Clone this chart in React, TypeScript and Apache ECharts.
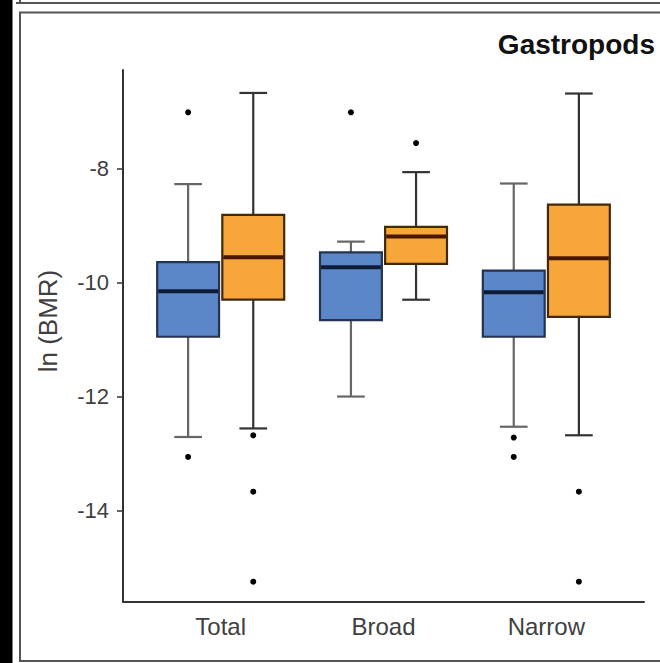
import React, { useEffect, useRef } from "react";
import * as echarts from "echarts";

const categories = ["Total", "Broad", "Narrow"];
// each box: [lower whisker, Q1, median, Q3, upper whisker]
const blueBoxes = [
  [-12.71, -10.95, -10.15, -9.64, -8.27],
  [-12.0, -10.66, -9.73, -9.47, -9.28],
  [-12.53, -10.95, -10.17, -9.79, -8.26],
];
const orangeBoxes = [
  [-12.56, -10.3, -9.555, -8.81, -6.67],
  [-10.3, -9.67, -9.19, -9.02, -8.06],
  [-12.68, -10.6, -9.57, -8.63, -6.68],
];
// outliers: [category index, value]
const blueOutliers = [
  [0, -7.01],
  [0, -13.06],
  [1, -7.01],
  [2, -12.72],
  [2, -13.06],
];
const orangeOutliers = [
  [0, -12.68],
  [0, -13.67],
  [0, -15.25],
  [1, -7.55],
  [2, -13.67],
  [2, -15.25],
];
const yTicks = [-14, -12, -10, -8];
const yRange = [-15.607, -6.267];

const BOX_W = 0.38;
const CAP_W = 0.17;
const OFFSET = 0.2;
const FONT = "'Liberation Sans', Arial, sans-serif";

function boxSeries(boxes: number[][], offset: number, fill: string, border: string, whisker: string, median: string) {
  return {
    type: "custom",
    data: boxes.map((b, i) => [i + 1, ...b]),
    encode: { x: 0, y: [1, 2, 3, 4, 5] },
    z: 3,
    renderItem: (params: any, api: any) => {
      const xc = api.value(0) + offset;
      const pLo = api.coord([xc, api.value(1)]);
      const pQ1 = api.coord([xc, api.value(2)]);
      const pMed = api.coord([xc, api.value(3)]);
      const pQ3 = api.coord([xc, api.value(4)]);
      const pHi = api.coord([xc, api.value(5)]);
      const bw = api.size([BOX_W, 0])[0];
      const cw = api.size([CAP_W, 0])[0];
      const cx = pQ1[0];
      const ws = { stroke: whisker, lineWidth: 2.2 };
      return {
        type: "group",
        children: [
          { type: "line", shape: { x1: cx, y1: pLo[1], x2: cx, y2: pQ1[1] }, style: ws },
          { type: "line", shape: { x1: cx, y1: pQ3[1], x2: cx, y2: pHi[1] }, style: ws },
          { type: "line", shape: { x1: cx - cw / 2, y1: pLo[1], x2: cx + cw / 2, y2: pLo[1] }, style: ws },
          { type: "line", shape: { x1: cx - cw / 2, y1: pHi[1], x2: cx + cw / 2, y2: pHi[1] }, style: ws },
          {
            type: "rect",
            shape: { x: cx - bw / 2, y: pQ3[1], width: bw, height: pQ1[1] - pQ3[1] },
            style: { fill, stroke: border, lineWidth: 2.2 },
          },
          {
            type: "line",
            shape: { x1: cx - bw / 2 + 1, y1: pMed[1], x2: cx + bw / 2 - 1, y2: pMed[1] },
            style: { stroke: median, lineWidth: 4 },
          },
        ],
      };
    },
  };
}

function outlierSeries(points: number[][], offset: number) {
  return {
    type: "custom",
    data: points.map((p) => [p[0] + 1, p[1]]),
    encode: { x: 0, y: 1 },
    z: 4,
    renderItem: (params: any, api: any) => {
      const p = api.coord([api.value(0) + offset, api.value(1)]);
      return { type: "circle", shape: { cx: p[0], cy: p[1], r: 3 }, style: { fill: "#000" } };
    },
  };
}

export default function App() {
  const ref = useRef<HTMLDivElement>(null);
  useEffect(() => {
    if (!ref.current) return;
    const chart = echarts.init(ref.current, undefined, { renderer: "svg" });
    chart.setOption({
      animation: false,
      backgroundColor: "#fff",
      grid: { left: 123, top: 70, right: 16, bottom: 61, containLabel: false },
      xAxis: {
        type: "value",
        min: 0.4,
        max: 3.6,
        splitLine: { show: false },
        axisLine: { show: true, lineStyle: { color: "#333", width: 2 } },
        axisTick: { show: false },
        axisLabel: {
          customValues: [1, 2, 3],
          formatter: (v: number) => categories[Math.round(v) - 1] ?? "",
          fontSize: 24,
          color: "#404040",
          fontFamily: FONT,
          margin: 12,
        },
      },
      yAxis: {
        type: "value",
        min: yRange[0],
        max: yRange[1],
        splitLine: { show: false },
        axisLine: { show: true, lineStyle: { color: "#333", width: 2 } },
        axisTick: { show: true, customValues: yTicks, length: 6, lineStyle: { color: "#333", width: 1.5 } },
        axisLabel: {
          customValues: yTicks,
          formatter: (v: number) => String(v),
          fontSize: 22,
          color: "#404040",
          fontFamily: FONT,
          margin: 14,
        },
      },
      graphic: [
        { type: "rect", shape: { x: 0, y: 0, width: 12.5, height: 663 }, style: { fill: "#000" }, z: 10 },
        { type: "polyline", shape: { points: [[16, 3], [660, 3]] }, style: { stroke: "#555", lineWidth: 2, fill: null } },
        { type: "line", shape: { x1: 20, y1: 0, x2: 20, y2: 4 }, style: { stroke: "#555", lineWidth: 2 } },
        {
          type: "polyline",
          shape: { points: [[662, 12.5], [20, 12.5], [20, 661], [662, 661]] },
          style: { stroke: "#555", lineWidth: 2, fill: null },
        },
        {
          type: "text",
          x: 655,
          y: 44,
          style: { text: "Gastropods", fontSize: 28, fontWeight: "bold", fontFamily: FONT, fill: "#111", align: "right", verticalAlign: "middle" },
        },
        {
          type: "text",
          x: 48,
          y: 321,
          rotation: Math.PI / 2,
          style: { text: "ln (BMR)", fontSize: 26, fontFamily: FONT, fill: "#404040", align: "center", verticalAlign: "middle" },
        },
      ],
      series: [
        boxSeries(blueBoxes, -OFFSET, "#5b86c8", "#26334f", "#666", "#0e1c38"),
        boxSeries(orangeBoxes, OFFSET, "#f7a63a", "#42280a", "#333", "#4a1600"),
        outlierSeries(blueOutliers, -OFFSET),
        outlierSeries(orangeOutliers, OFFSET),
      ],
    });
    return () => chart.dispose();
  }, []);
  return (
    <div
      ref={ref}
      style={{ position: "fixed", left: 0, top: 0, width: 660, height: 663, background: "#fff" }}
    />
  );
}
